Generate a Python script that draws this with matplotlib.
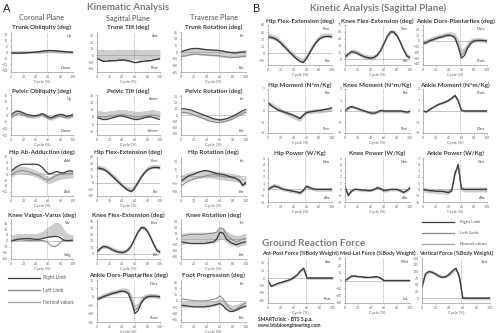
"""Gait analysis report: kinematics (A) and kinetics / GRF (B)."""

import matplotlib

matplotlib.use("Agg")
import matplotlib.pyplot as plt
import numpy as np
from matplotlib.lines import Line2D

plt.rcParams["font.family"] = ["Lato", "DejaVu Sans"]

# gait cycle sample points (%)
cycle = [0, 5, 10, 15, 20, 25, 30, 35, 40, 45, 50, 55, 60, 65, 70, 75, 80, 85, 90, 95, 100]

# ---- kinematics (deg) ----
trunk_obl_right = [-1, -1, -1.2, -1, -1, -0.8, -0.5, -0.3, 0, 0.3, 0.8, 1.2, 1.5, 1.5, 1.3, 1, 0.8, 0.5, 0.2, 0, -0.3]
trunk_obl_left = [-1.5, -1.5, -1.5, -1.3, -1.2, -1, -0.8, -0.5, -0.3, 0, 0.5, 1, 1.2, 1.2, 1, 0.8, 0.5, 0.2, 0, -0.3, -0.5]
trunk_obl_norm = [0, 0, 0, 0, 0, 0, 0, 0, 0, 0.2, 0.4, 0.6, 0.8, 0.8, 0.6, 0.4, 0.2, 0, 0, 0, 0]

trunk_tilt_right = [-4, -7, -9, -9, -8, -8, -8, -7, -7, -7, -8, -9, -11, -10, -9, -9, -8, -8, -7, -6, -5]
trunk_tilt_left = [-5, -7, -8, -9, -9, -8, -8, -8, -7, -8, -9, -10, -11, -11, -10, -9, -9, -8, -7, -6, -5]
trunk_tilt_norm = [1.5, 1.5, 1.5, 1, 1, 1, 1.5, 1.5, 1.5, 1.5, 1.5, 1.5, 1.5, 1.5, 1, 1, 1.5, 1.5, 1.5, 1.5, 1.5]

trunk_rot_right = [0, 3, 5, 7, 8, 8, 7, 6, 5, 5, 4, 4, 3, 2, 0, -1, -2, -2, -1, 0, 0]
trunk_rot_left = [-10, -9, -8, -6, -5, -5, -6, -6, -7, -7, -8, -8, -9, -10, -11, -12, -12, -12, -11, -10, -9]
trunk_rot_norm = [-3, -2, 0, 1, 2, 2, 1, 0, 0, -1, -1, -2, -3, -4, -5, -5, -5, -5, -4, -3, -3]

pelvic_obl_right = [0, 2, 3, 2.5, 1.5, 0.5, 0, -0.5, -0.5, 0, 1, 0, -1.5, -2, -1, 0, 0.5, 0, -1, -0.5, 0.5]
pelvic_obl_left = [-2, -0.5, 1, 1, 0, -1, -1.5, -1.5, -1, -0.5, 0, -1, -2.5, -3, -2, -1, -1, -1.5, -2, -1.5, -1]
pelvic_obl_norm = [-1, 0.5, 2, 1.8, 0.8, -0.2, -0.8, -1, -0.8, -0.3, 0.5, -0.5, -2, -2.5, -1.5, -0.5, 0, -0.8, -1.5, -1, -0.3]

pelvic_tilt_right = [7, 6, 5, 5, 6, 7, 8, 9, 9, 8, 7, 6, 5, 5, 6, 7, 8, 8, 7, 6, 5]
pelvic_tilt_left = [9, 8, 8, 8, 9, 9, 10, 10, 10, 10, 9, 9, 8, 8, 8, 9, 9, 10, 10, 9, 9]
pelvic_tilt_norm = [11, 11, 10, 10, 11, 11, 12, 12, 12, 12, 11, 11, 10, 10, 10, 11, 11, 12, 12, 11, 11]

pelvic_rot_right = [10, 10, 9, 8, 6, 4, 2, 0, -2, -4, -6, -7, -8, -7, -6, -4, -2, 1, 4, 7, 9]
pelvic_rot_left = [4, 4, 3, 2, 0, -2, -4, -6, -8, -10, -11, -12, -12, -11, -10, -8, -6, -3, 0, 3, 4]
pelvic_rot_norm = [6, 6, 5, 4, 2, 0, -2, -4, -6, -7, -8, -9, -9, -8, -7, -5, -3, 0, 2, 4, 6]

hip_abd_right = [2, 4, 5.5, 6.5, 7, 7, 7, 7, 7, 6.5, 5, 2.5, 0.5, 0.5, 1.5, 2, 1, 1, 2, 2.5, 2]
hip_abd_left = [-1, 1, 2, 2.5, 2.5, 2, 1.5, 1, 0, -1, -2, -3.5, -4, -3, -1.5, -0.5, 0, 0.5, 0.5, 0.5, 0.5]
hip_abd_norm = [0, 2, 3, 3, 3, 2.5, 2, 1.5, 0.5, -0.5, -1.5, -3, -4, -3.5, -2.5, -1.5, -1, -0.5, -0.5, 0, 0]

hip_flex_right = [35, 34, 32, 28, 22, 15, 8, 1, -6, -12, -17, -20, -12, 0, 12, 22, 30, 34, 36, 36, 35]
hip_flex_left = [33, 32, 30, 26, 20, 13, 6, 0, -7, -13, -18, -19, -10, 2, 14, 24, 31, 34, 35, 35, 34]
hip_flex_norm = [37, 36, 34, 30, 24, 17, 10, 3, -4, -10, -14, -15, -7, 5, 17, 26, 33, 37, 38, 38, 37]

hip_rot_right = [-10, -5, 0, 3, 5, 8, 10, 12, 12, 10, 8, 6, 5, 4, 2, 0, -2, -4, -8, -18, -12]
hip_rot_left = [-20, -15, -10, -8, -5, -3, -2, 0, 2, 3, 4, 3, 2, 0, -1, -2, -3, -5, -10, -20, -15]
hip_rot_norm = [-5, -3, 0, 2, 3, 4, 5, 5, 5, 5, 4, 3, 2, 1, 0, -1, -2, -3, -5, -10, -8]

knee_var_right = [0, 1, 2, 2.5, 3, 3, 3, 2.5, 2, 2, 3, 4, 5, 5.5, 6, 6, 4, 1, 0, 0.5, 1]
knee_var_left = [-1, 0, 1, 1, 1, 0.5, 0.5, 0.5, 0.5, 0.5, 0.5, 0, -3, -7, -8, -6, -2, 1, 1, 0, 0]
knee_var_norm = [4, 5, 6, 6, 6, 6, 6, 6, 6, 7, 8, 10, 12, 14, 16, 17, 15, 10, 6, 5, 4]
knee_var_sd = [4, 4, 4, 4, 4, 4, 4, 4, 4, 4, 5, 6, 7, 8, 9, 9, 8, 6, 5, 4, 4]

knee_flex_right = [5, 12, 17, 16, 13, 9, 6, 4, 3, 5, 10, 20, 35, 50, 60, 60, 52, 38, 22, 8, 4]
knee_flex_left = [4, 11, 16, 15, 12, 8, 5, 3, 2, 4, 9, 19, 34, 49, 59, 59, 51, 37, 21, 7, 3]
knee_flex_norm = [6, 13, 18, 17, 14, 10, 7, 5, 4, 6, 12, 23, 38, 52, 61, 60, 52, 38, 22, 9, 5]

knee_rot_right = [-5, -6, -7, -8, -8, -8, -8, -8, -7, -6, -5, 0, 12, 10, 0, -5, -8, -10, -8, -6, -5]
knee_rot_left = [5, 6, 7, 8, 8, 8, 8, 8, 9, 10, 10, 12, 20, 18, 8, 2, -2, -5, -3, 0, 1]
knee_rot_norm = [0, 1, 2, 2, 2, 2, 2, 2, 2, 2, 3, 5, 10, 9, 4, 0, -2, -4, -3, -1, 0]

ankle_right = [-5, -3, 0, 2, 4, 6, 7, 9, 10, 9, 5, -10, -30, -25, -12, -4, 0, 1, 1, 1, 0]
ankle_left = [-4, -2, 1, 3, 5, 7, 8, 10, 11, 10, 7, -6, -25, -20, -9, -2, 1, 1, 1, 0, 0]
ankle_norm = [-2, -1, 2, 4, 6, 8, 9, 11, 12, 12, 10, 0, -18, -15, -5, 0, 2, 2, 2, 1, 0]

foot_prog_right = [-10, -11, -12, -13, -14, -14, -14, -14, -13, -12, -10, -8, -6, -12, -20, -25, -25, -22, -18, -14, -12]
foot_prog_left = [5, 4, 3, 2, 1, 0, 0, 0, 1, 2, 4, 6, 12, 5, -8, -18, -22, -20, -14, -8, -4]
foot_prog_norm = [-8, -8, -8, -8, -8, -8, -8, -8, -8, -7, -6, -4, 0, -4, -10, -15, -17, -15, -12, -10, -8]

# ---- kinetics ----
hip_mom_right = [0.8, 0.5, 0.3, 0.1, 0, -0.1, -0.2, -0.3, -0.4, -0.55, -0.7, -0.4, -0.15, -0.1, -0.05, 0, 0.05, 0.1, 0.15, 0.2, 0.3]
hip_mom_left = [0.7, 0.5, 0.3, 0.15, 0.05, -0.05, -0.15, -0.25, -0.35, -0.5, -0.6, -0.35, -0.1, -0.05, 0, 0, 0.05, 0.1, 0.15, 0.2, 0.25]
hip_mom_norm = [0.6, 0.6, 0.4, 0.2, 0.05, -0.1, -0.2, -0.35, -0.5, -0.65, -0.75, -0.4, -0.1, -0.05, 0, 0, 0, 0.05, 0.1, 0.15, 0.2]

knee_mom_right = [0, 0.3, 0.4, 0.3, 0.2, 0.1, 0, -0.1, -0.2, -0.2, -0.1, 0.05, 0, 0, 0, 0, 0, 0, -0.05, -0.1, -0.05]
knee_mom_left = [0, 0.25, 0.35, 0.3, 0.2, 0.1, 0, -0.1, -0.15, -0.2, -0.1, 0.05, 0, 0, 0, 0, 0, 0, -0.05, -0.1, 0]
knee_mom_norm = [0, 0.25, 0.45, 0.35, 0.2, 0.1, 0, -0.1, -0.15, -0.15, -0.05, 0.05, 0, 0, 0, 0, 0, 0, -0.05, -0.1, 0]

ankle_mom_right = [0, -0.1, 0.1, 0.3, 0.45, 0.6, 0.7, 0.8, 0.95, 1.15, 1.4, 0.9, 0.05, 0, 0, 0, 0, 0, 0, 0, 0]
ankle_mom_left = [0, -0.05, 0.15, 0.3, 0.5, 0.65, 0.75, 0.85, 1.0, 1.2, 1.45, 1.0, 0.1, 0, 0, 0, 0, 0, 0, 0, 0]
ankle_mom_norm = [0, -0.05, 0.15, 0.35, 0.5, 0.65, 0.75, 0.85, 1.0, 1.2, 1.4, 1.0, 0.1, 0, 0, 0, 0, 0, 0, 0, 0]

hip_pow_right = [0, 0.3, 0.5, 0.4, 0.2, 0, -0.1, -0.2, -0.3, -0.4, -0.6, -0.2, 0.5, 0.3, 0.1, 0, 0, 0, 0, 0, 0]
hip_pow_left = [0, 0.4, 0.6, 0.4, 0.2, 0, -0.1, -0.2, -0.3, -0.4, -0.5, -0.1, 0.4, 0.3, 0.1, 0, 0, 0, 0, 0, 0]
hip_pow_norm = [0, 0.4, 0.7, 0.5, 0.2, 0, -0.1, -0.2, -0.3, -0.4, -0.5, -0.1, 0.5, 0.3, 0.1, 0, 0, 0, 0, 0, 0]

knee_pow_right = [0.5, -1, -0.3, 0, 0, -0.1, -0.1, -0.2, -0.2, 0, 0.3, 0.1, -0.2, -0.1, 0, 0, 0, -0.2, -0.5, -0.2, 0.3]
knee_pow_left = [0.3, -0.8, -0.2, 0, 0, -0.1, -0.1, -0.2, -0.1, 0, 0.2, 0.1, -0.1, -0.1, 0, 0, 0, -0.2, -0.4, -0.2, 0.2]
knee_pow_norm = [0.3, -0.7, -0.2, 0.1, 0, -0.1, -0.1, -0.1, -0.1, 0.1, 0.3, 0.1, -0.2, -0.1, 0, 0, 0, -0.2, -0.4, -0.2, 0.2]

ankle_pow_right = [0, -0.1, -0.2, -0.2, -0.3, -0.3, -0.3, -0.4, -0.5, -0.2, 2.5, 4.0, 0.1, 0, 0, 0, 0, 0, 0, 0, 0]
ankle_pow_left = [0, -0.1, -0.2, -0.2, -0.3, -0.3, -0.3, -0.4, -0.4, 0, 2.8, 3.6, 0.1, 0, 0, 0, 0, 0, 0, 0, 0]
ankle_pow_norm = [0, -0.1, -0.2, -0.2, -0.3, -0.3, -0.3, -0.4, -0.4, 0, 2.6, 3.8, 0.2, 0, 0, 0, 0, 0, 0, 0, 0]

# ---- ground reaction force (% body weight) ----
grf_ap_right = [-6, -17, -14, -11, -9, -7, -5, -3, 1, 6, 14, 20, 0, 0, 0, 0, 0, 0, 0, 0, 0]
grf_ap_left = [-5, -16, -14, -11, -9, -7, -5, -2, 2, 7, 15, 18, 0, 0, 0, 0, 0, 0, 0, 0, 0]
grf_ap_norm = [-4, -15, -13, -11, -9, -7, -5, -2, 2, 8, 16, 17, 0, 0, 0, 0, 0, 0, 0, 0, 0]

grf_ml_right = [0, 3, 6, 6, 5, 5, 4, 4, 4, 5, 5, 3, 0, 0, 0, 0, 0, 0, 0, 0, 0]
grf_ml_left = [0, 2, 5, 6, 5, 5, 5, 4, 4, 4, 5, 3, 0, 0, 0, 0, 0, 0, 0, 0, 0]
grf_ml_norm = [0, 3, 6, 6, 6, 5, 5, 5, 5, 5, 5, 3, 0, 0, 0, 0, 0, 0, 0, 0, 0]

grf_vert_right = [40, 90, 100, 97, 90, 82, 78, 80, 88, 102, 112, 80, 0, 0, 0, 0, 0, 0, 0, 0, 0]
grf_vert_left = [45, 92, 98, 95, 88, 80, 77, 80, 90, 104, 110, 75, 0, 0, 0, 0, 0, 0, 0, 0, 0]
grf_vert_norm = [40, 85, 100, 98, 92, 85, 80, 82, 90, 100, 108, 85, 2, 0, 0, 0, 0, 0, 0, 0, 0]

RIGHT = "#3a3a3a"
LEFT = "#8c8c8c"
BAND = "#cdcdcd"
TITLE = "#3a3a3a"
HEAD = "#7a7a7a"

fig = plt.figure(figsize=(5, 3.33), dpi=100)


def px_axes(x0, y0, x1, y1):
    return fig.add_axes([x0 / 500, 1 - y1 / 333, (x1 - x0) / 500, (y1 - y0) / 333])


def gait_panel(box, title, right, left, norm, sd, ylim, top, bottom, toe_off=58, title_size=4.5):
    ax = px_axes(*box)
    norm = np.asarray(norm, dtype=float)
    sd = np.asarray(sd, dtype=float)
    ax.fill_between(cycle, norm - sd, norm + sd, color=BAND, lw=0)
    ax.axhline(0, color="#9a9a9a", lw=0.4)
    ax.axvline(toe_off, color="#777777", lw=0.4, ls=(0, (1.5, 1.5)))
    ax.plot(cycle, left, color=LEFT, lw=0.8)
    ax.plot(cycle, right, color=RIGHT, lw=0.9)
    ax.set_xlim(0, 100)
    ax.set_ylim(*ylim)
    ax.set_xticks([0, 20, 40, 60, 80, 100])
    ax.yaxis.set_major_locator(plt.MaxNLocator(7, integer=True))
    for side in ("top", "right"):
        ax.spines[side].set_visible(False)
    for side in ("left", "bottom"):
        ax.spines[side].set_color("#9a9a9a")
        ax.spines[side].set_linewidth(0.5)
    ax.tick_params(labelsize=2.5, length=1, width=0.4, pad=1, colors="#666666")
    ax.set_title(title, fontsize=title_size, fontweight="bold", color=TITLE, pad=1.8)
    ax.set_xlabel("Cycle (%)", fontsize=3, color="#666666", labelpad=1)
    ax.text(0.97, 0.95, top, transform=ax.transAxes, ha="right", va="top", fontsize=2.8, color="#444444")
    ax.text(0.97, 0.04, bottom, transform=ax.transAxes, ha="right", va="bottom", fontsize=2.8, color="#444444")
    return ax


# ---------------- panel A ----------------
colA = [(11, 73), (97, 160), (181, 246)]
rowA = [(32, 72), (95, 135), (157, 196), (219, 259), (280, 322)]


def boxA(r, c):
    return (colA[c][0], rowA[r][0], colA[c][1], rowA[r][1])


gait_panel(boxA(0, 0), "Trunk Obliquity (deg)", trunk_obl_right, trunk_obl_left, trunk_obl_norm, 1.5, (-20, 20), "Up", "Down")
gait_panel(boxA(0, 1), "Trunk Tilt (deg)", trunk_tilt_right, trunk_tilt_left, trunk_tilt_norm, 7.5, (-25, 35), "Ant", "Post")
gait_panel(boxA(0, 2), "Trunk Rotation (deg)", trunk_rot_right, trunk_rot_left, trunk_rot_norm, 8, (-45, 45), "Int", "Ext")
gait_panel(boxA(1, 0), "Pelvic Obliquity (deg)", pelvic_obl_right, pelvic_obl_left, pelvic_obl_norm, 1.5, (-15, 15), "Up", "Down")
gait_panel(boxA(1, 1), "Pelvic Tilt (deg)", pelvic_tilt_right, pelvic_tilt_left, pelvic_tilt_norm, 4, (-12, 32), "Anter", "Retror")
gait_panel(boxA(1, 2), "Pelvic Rotation (deg)", pelvic_rot_right, pelvic_rot_left, pelvic_rot_norm, 3, (-32, 32), "Int", "Ext")
gait_panel(boxA(2, 0), "Hip Ab-Adduction (deg)", hip_abd_right, hip_abd_left, hip_abd_norm, 2.5, (-15, 12), "Add", "Abd")
gait_panel(boxA(2, 1), "Hip Flex-Extension (deg)", hip_flex_right, hip_flex_left, hip_flex_norm, 5, (-30, 60), "Flex", "Ext")
gait_panel(boxA(2, 2), "Hip Rotation (deg)", hip_rot_right, hip_rot_left, hip_rot_norm, 8, (-40, 40), "Int", "Ext")
gait_panel(boxA(3, 0), "Knee Valgus-Varus (deg)", knee_var_right, knee_var_left, knee_var_norm, knee_var_sd, (-25, 30), "Var", "Valg")
gait_panel(boxA(3, 1), "Knee Flex-Extension (deg)", knee_flex_right, knee_flex_left, knee_flex_norm, 5, (-12, 80), "Flex", "Ext")
gait_panel(boxA(3, 2), "Knee Rotation (deg)", knee_rot_right, knee_rot_left, knee_rot_norm, 10, (-35, 35), "Int", "Ext")
gait_panel(boxA(4, 1), "Ankle Dors-Plantarflex (deg)", ankle_right, ankle_left, ankle_norm, 4, (-45, 30), "Dors", "Plant")
gait_panel(boxA(4, 2), "Foot Progression (deg)", foot_prog_right, foot_prog_left, foot_prog_norm, 7, (-50, 50), "Int", "Ext")

# ---------------- panel B ----------------
colB = [(268, 332), (345, 410), (423, 487)]
rowB = [(25, 65), (89, 133), (158, 202)]


def boxB(r, c):
    return (colB[c][0], rowB[r][0], colB[c][1], rowB[r][1])


gait_panel(boxB(0, 0), "Hip Flex-Extension (deg)", hip_flex_right, hip_flex_left, hip_flex_norm, 5, (-25, 60), "Flex", "Ext")
gait_panel(boxB(0, 1), "Knee Flex-Extension (deg)", knee_flex_right, knee_flex_left, knee_flex_norm, 5, (-12, 75), "Flex", "Ext")
gait_panel(boxB(0, 2), "Ankle Dors-Plantarflex (deg)", ankle_right, ankle_left, ankle_norm, 4, (-42, 28), "Dors", "Plant")
gait_panel(boxB(1, 0), "Hip Moment (N*m/Kg)", hip_mom_right, hip_mom_left, hip_mom_norm, 0.2, (-2, 2), "Ext", "Flex")
gait_panel(boxB(1, 1), "Knee Moment (N*m/Kg)", knee_mom_right, knee_mom_left, knee_mom_norm, 0.15, (-2, 2), "Ext", "Flex")
gait_panel(boxB(1, 2), "Ankle Moment (N*m/Kg)", ankle_mom_right, ankle_mom_left, ankle_mom_norm, 0.12, (-2, 2), "Plant", "Dors")
gait_panel(boxB(2, 0), "Hip Power (W/Kg)", hip_pow_right, hip_pow_left, hip_pow_norm, 0.3, (-2, 5), "Gen", "Abs")
gait_panel(boxB(2, 1), "Knee Power (W/Kg)", knee_pow_right, knee_pow_left, knee_pow_norm, 0.25, (-2, 5), "Gen", "Abs")
gait_panel(boxB(2, 2), "Ankle Power (W/Kg)", ankle_pow_right, ankle_pow_left, ankle_pow_norm, 0.4, (-2, 5), "Gen", "Abs")

colG = [(268, 333), (345, 410), (422, 490)]
rowG = (258, 303)
gait_panel((colG[0][0], rowG[0], colG[0][1], rowG[1]), "Ant-Post Force (%Body Weight)", grf_ap_right, grf_ap_left, grf_ap_norm, 3, (-50, 40), "Ant", "Post", title_size=3.9)
gait_panel((colG[1][0], rowG[0], colG[1][1], rowG[1]), "Med-Lat Force (%Body Weight)", grf_ml_right, grf_ml_left, grf_ml_norm, 1.5, (-30, 30), "Med", "Lat", title_size=3.9)
gait_panel((colG[2][0], rowG[0], colG[2][1], rowG[1]), "Vertical Force (%Body Weight)", grf_vert_right, grf_vert_left, grf_vert_norm, 6, (-18, 150), "Vert", "", title_size=3.9)


# ---------------- headers, legends, footer ----------------
def ftext(x, y, s, **kw):
    fig.text(x / 500, 1 - y / 333, s, **kw)


def legend_line(x0, x1, y, color, lw):
    fig.add_artist(Line2D([x0 / 500, x1 / 500], [1 - y / 333] * 2, color=color, lw=lw, transform=fig.transFigure))


ftext(3, 8, "A", fontsize=8, color="#222222", va="center")
ftext(128, 8, "Kinematic Analysis", fontsize=7, fontweight="bold", color=HEAD, ha="center", va="center")
ftext(42, 18, "Coronal Plane", fontsize=5.2, fontweight="bold", color=HEAD, ha="center", va="center")
ftext(128, 18, "Sagittal Plane", fontsize=5.2, fontweight="bold", color=HEAD, ha="center", va="center")
ftext(214, 18, "Traverse Plane", fontsize=5.2, fontweight="bold", color=HEAD, ha="center", va="center")

ftext(253, 8, "B", fontsize=8, color="#222222", va="center")
ftext(378, 8, "Kinetic Analysis (Sagittal Plane)", fontsize=7, fontweight="bold", color=HEAD, ha="center", va="center")
ftext(314, 243, "Ground Reaction Force", fontsize=7.2, fontweight="bold", color=HEAD, ha="center", va="center")

for (y, label, color, lw) in [(278, "Right Limb", RIGHT, 0.9), (290, "Left Limb", LEFT, 0.9), (302, "Normal values", "#a8a8a8", 1.0)]:
    legend_line(8, 40, y, color, lw)
    ftext(43, y, label, fontsize=3.5, color="#555555", va="center")

for (y, label, color, lw) in [(222, "Right Limb", RIGHT, 0.9), (233, "Left Limb", LEFT, 0.9), (244, "Normal values", "#a8a8a8", 1.0)]:
    legend_line(422, 454, y, color, lw)
    ftext(460, y, label, fontsize=3.2, color="#555555", va="center")

ftext(258, 319, "SMARTclinic - BTS S.p.a.", fontsize=3.6, fontweight="bold", color="#333333", va="center")
ftext(258, 326, "www.btsbioengineering.com", fontsize=3.6, fontweight="bold", color="#333333", va="center")

fig.savefig("out.png", dpi=100)
